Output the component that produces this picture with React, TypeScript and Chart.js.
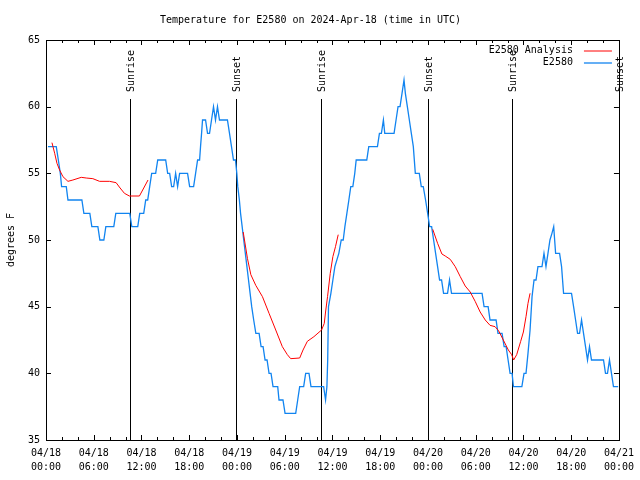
import { useEffect, useRef } from "react";
import { Chart, registerables } from "chart.js";

Chart.register(...registerables);

const FONT = "'DejaVu Sans Mono', monospace";
const TITLE = "Temperature for E2580 on 2024-Apr-18 (time in UTC)";
const Y_LABEL = "degrees F";
const SERIES_ANALYSIS = "E2580 Analysis";
const SERIES_OBS = "E2580";
const COLOR_ANALYSIS = "#ff0000";
const COLOR_OBS = "#1184f0";

const xTickDates = ["04/18", "04/18", "04/18", "04/18", "04/19", "04/19", "04/19", "04/19", "04/20", "04/20", "04/20", "04/20", "04/21"];
const xTickTimes = ["00:00", "06:00", "12:00", "18:00", "00:00", "06:00", "12:00", "18:00", "00:00", "06:00", "12:00", "18:00", "00:00"];

const sunEventHours = [10.52, 23.93, 34.55, 47.95, 58.52, 71.97];
const sunEventLabels = ["Sunrise", "Sunset", "Sunrise", "Sunset", "Sunrise", "Sunset"];

// hours since 04/18 00:00 UTC
const obsHours = [
  0.25, 1.29, 1.55, 1.8, 1.96, 2.55, 2.76, 4.51, 4.76, 5.51, 5.76, 6.52, 6.77, 7.27, 7.52, 8.52, 8.77, 10.53, 10.78, 11.53,
  11.78, 12.28, 12.53, 12.78, 13.03, 13.28, 13.78, 14.04, 15.04, 15.29, 15.54, 15.79, 16.04, 16.29, 16.54, 16.79, 17.79, 18.05, 18.55, 18.8,
  19.05, 19.3, 19.42, 19.55, 19.67, 20.05, 20.3, 20.55, 20.8, 21.05, 21.3, 21.55, 21.8, 22.8, 23.06, 23.31, 23.56, 23.81, 23.98,
  24.1, 24.3, 24.45, 24.65, 24.85, 25.05, 25.25, 25.45, 25.65, 25.85, 26.1, 26.37, 26.78, 27.03, 27.28, 27.53, 27.78, 28.03, 28.28, 28.53,
  29.12, 29.28, 29.78, 30.04, 31.38, 31.63, 31.88, 32.38, 32.63, 33.05, 33.3, 34.89, 35.13, 35.3, 35.4, 35.5, 35.8, 36.05, 36.3, 36.8,
  37.1, 37.35, 37.56, 37.81, 38.06, 38.3, 38.56, 38.8, 38.98, 40.31, 40.56, 41.65, 41.9, 42.15, 42.4, 42.57, 43.74, 43.99, 44.24, 44.49,
  44.74, 44.99, 45.16, 45.41, 45.66, 45.91, 46.16, 46.41, 46.91, 47.16, 47.41, 47.7, 47.96, 48.21, 48.46, 48.71, 48.96, 49.21, 49.46, 49.71,
  49.96, 50.21, 50.46, 50.71, 50.96, 54.8, 55.05, 55.56, 55.8, 56.56, 56.8, 57.31, 57.57, 57.82, 58.07, 58.32, 58.57, 58.74, 59.8, 60.07,
  60.32, 60.57, 60.83, 61.08, 61.33, 61.58, 61.82, 62.33, 62.58, 62.83, 63.08, 63.33, 63.58, 63.8, 64.04, 64.54, 64.79, 65.04, 66.04, 66.3,
  66.55, 66.8, 67.05, 67.3, 67.55, 67.8, 68.05, 68.3, 68.55, 70.06, 70.31, 70.56, 70.81, 71.06, 71.31, 71.9,
];
const obsTemps = [
  57, 57, 56, 55, 54, 54, 53, 53, 52, 52, 51, 51, 50, 50, 51, 51, 52, 52, 51, 51,
  52, 52, 53, 53, 54, 55, 55, 56, 56, 55, 55, 54, 54, 55, 54, 55, 55, 54, 54, 55,
  56, 56, 57, 58, 59, 59, 58, 58, 59, 60, 59, 60, 59, 59, 58, 57, 56, 56, 55,
  54, 53, 52, 51, 50, 49, 48, 47, 46, 45, 44, 43, 43, 42, 42, 41, 41, 40, 40, 39,
  39, 38, 38, 37, 37, 38, 39, 39, 40, 40, 39, 39, 38, 39, 41, 45, 46, 47, 48, 49,
  50, 50, 51, 52, 53, 54, 54, 55, 56, 56, 57, 57, 58, 58, 59, 58, 58, 59, 60, 60,
  61, 62, 61, 60, 59, 58, 57, 55, 55, 54, 54, 53, 52, 51, 51, 50, 49, 48, 47, 47,
  46, 46, 46, 47, 46, 46, 45, 45, 44, 44, 43, 43, 42, 42, 41, 40, 40, 39, 39, 40,
  40, 41.5, 43.25, 45.75, 47, 47, 48, 48, 49, 48, 49, 50, 50.5, 51, 49, 49, 48, 46, 46, 45,
  44, 43, 43, 44, 43, 42, 41, 42, 41, 41, 40, 40, 41, 40, 39, 39,
];

// analysis series; null marks a gap between runs
const anaHours = [
  0.75, 1.09, 1.38, 1.71, 2.13, 2.76, 3.38, 4.43, 5.05, 5.89, 6.73, 7.98, 8.81, 9.31, 9.86, 10.48, 11.74, 12.15, 12.82,
  13.0,
  24.78, 25.32, 25.74, 26.36, 27.2, 28.03, 28.87, 29.7, 30.33, 30.75, 31.88, 32.3, 32.84, 33.67, 34.63, 34.97, 35.13, 35.38, 35.72, 36.05, 36.38, 36.72,
  37.0,
  48.6, 49.21, 49.75, 50.17, 50.8, 51.43, 52.06, 52.68, 53.31, 53.93, 54.56, 55.2, 55.8, 56.43, 56.87, 57.47, 58.1, 58.52, 58.77, 59.15, 59.65, 59.99, 60.32, 60.57, 60.83,
];
const anaTemps = [
  57.3, 56.5, 55.75, 55.25, 54.75, 54.4, 54.5, 54.7, 54.65, 54.6, 54.4, 54.4, 54.3, 53.9, 53.5, 53.3, 53.3, 53.75, 54.5,
  null,
  50.6, 48.6, 47.4, 46.6, 45.75, 44.5, 43.25, 42.0, 41.4, 41.1, 41.15, 41.75, 42.4, 42.75, 43.25, 43.75, 44.6, 45.75, 47.5, 48.75, 49.5, 50.4,
  null,
  50.8, 49.75, 48.95, 48.8, 48.55, 48.0, 47.25, 46.55, 46.1, 45.4, 44.6, 44.0, 43.6, 43.5, 43.2, 42.5, 41.75, 41.4, 41.0, 41.4, 42.4, 43.1, 44.25, 45.25, 46.0,
];

const gnuplotDecor = {
  id: "gnuplotDecor",
  beforeDatasetsDraw(chart: any) {
    const { ctx, chartArea, scales } = chart;
    const xs = scales.x;
    ctx.save();
    ctx.strokeStyle = "#000";
    ctx.fillStyle = "#000";
    ctx.lineWidth = 1;
    ctx.font = `10px ${FONT}`;
    sunEventHours.forEach((h, i) => {
      const px = Math.round(xs.getPixelForValue(h)) + 0.5;
      ctx.beginPath();
      ctx.moveTo(px, chartArea.top + 59);
      ctx.lineTo(px, chartArea.bottom);
      ctx.stroke();
      ctx.save();
      ctx.translate(px + 1, chartArea.top + 52);
      ctx.rotate(-Math.PI / 2);
      ctx.textAlign = "left";
      ctx.textBaseline = "middle";
      ctx.fillText(sunEventLabels[i], 0, 0);
      ctx.restore();
    });
    ctx.restore();
  },
  afterDraw(chart: any) {
    const { ctx, chartArea, scales } = chart;
    const xs = scales.x;
    const ys = scales.y;
    const { left, right, top, bottom } = chartArea;
    ctx.save();
    ctx.strokeStyle = "#000";
    ctx.lineWidth = 1;
    ctx.beginPath();
    // inward ticks on x (bottom & top)
    for (let h = 0; h <= 72; h += 2) {
      const px = Math.round(xs.getPixelForValue(h)) + 0.5;
      const len = h % 6 === 0 ? 5 : 3;
      ctx.moveTo(px, bottom);
      ctx.lineTo(px, bottom - len);
      ctx.moveTo(px, top);
      ctx.lineTo(px, top + len);
    }
    // inward ticks on y (left & right)
    for (let v = 35; v <= 65; v += 5) {
      const py = Math.round(ys.getPixelForValue(v)) + 0.5;
      ctx.moveTo(left, py);
      ctx.lineTo(left + 5, py);
      ctx.moveTo(right, py);
      ctx.lineTo(right - 5, py);
    }
    ctx.stroke();
    ctx.strokeRect(Math.round(left) + 0.5, Math.round(top) + 0.5, Math.round(right - left), Math.round(bottom - top));

    // gnuplot-style key (text right-aligned, sample line on the right)
    ctx.font = `10px ${FONT}`;
    ctx.fillStyle = "#000";
    ctx.textAlign = "right";
    ctx.textBaseline = "middle";
    const keys = [
      { label: SERIES_ANALYSIS, color: COLOR_ANALYSIS, w: 1 },
      { label: SERIES_OBS, color: COLOR_OBS, w: 1.3 },
    ];
    keys.forEach((k, i) => {
      const y = top + 10.5 + i * 12;
      ctx.fillText(k.label, right - 46, y);
      ctx.strokeStyle = k.color;
      ctx.lineWidth = k.w;
      ctx.beginPath();
      ctx.moveTo(right - 35, y + 0.5);
      ctx.lineTo(right - 7, y + 0.5);
      ctx.stroke();
    });
    ctx.restore();
  },
};

export default function App() {
  const canvasRef = useRef<HTMLCanvasElement | null>(null);

  useEffect(() => {
    document.body.style.margin = "0";
    const canvas = canvasRef.current;
    if (!canvas) return;

    const obsData = obsHours.map((h, i) => ({ x: h, y: obsTemps[i] }));
    const anaData = anaHours.map((h, i) => ({ x: h, y: anaTemps[i] }));

    const chart = new Chart(canvas, {
      type: "line",
      data: {
        datasets: [
          {
            label: SERIES_ANALYSIS,
            data: anaData as any,
            borderColor: COLOR_ANALYSIS,
            backgroundColor: COLOR_ANALYSIS,
            borderWidth: 1,
            pointRadius: 0,
            tension: 0,
            spanGaps: false,
          },
          {
            label: SERIES_OBS,
            data: obsData,
            borderColor: COLOR_OBS,
            backgroundColor: COLOR_OBS,
            borderWidth: 1.3,
            pointRadius: 0,
            tension: 0,
          },
        ],
      },
      options: {
        responsive: false,
        animation: false,
        layout: { padding: { left: 0, right: 19, top: 0, bottom: 0 } },
        plugins: {
          legend: { display: false },
          tooltip: { enabled: false },
          title: {
            display: true,
            text: TITLE,
            color: "#000",
            font: { family: FONT, size: 10, weight: "normal", lineHeight: 1.2 },
            padding: { top: 14, bottom: 14 },
          },
        },
        scales: {
          x: {
            type: "linear",
            min: 0,
            max: 72,
            grid: { display: false, drawTicks: false },
            border: { display: false },
            afterFit: (scale: any) => {
              scale.height = 40;
            },
            ticks: {
              stepSize: 6,
              autoSkip: false,
              maxRotation: 0,
              padding: 6,
              color: "#000",
              font: { family: FONT, size: 10, lineHeight: 1.4 },
              callback: (value: any) => {
                const i = Math.round(Number(value) / 6);
                return [xTickDates[i], xTickTimes[i]];
              },
            },
          },
          y: {
            type: "linear",
            min: 35,
            max: 65,
            grid: { display: false, drawTicks: false },
            border: { display: false },
            afterFit: (scale: any) => {
              scale.width = 46;
            },
            title: {
              display: true,
              text: Y_LABEL,
              color: "#000",
              font: { family: FONT, size: 10, lineHeight: 1.2 },
              padding: { top: 5, bottom: 0 },
            },
            ticks: {
              stepSize: 5,
              padding: 6,
              color: "#000",
              font: { family: FONT, size: 10 },
            },
          },
        },
      },
      plugins: [gnuplotDecor],
    });

    return () => chart.destroy();
  }, []);

  return (
    <div style={{ width: 640, height: 480, background: "#fff" }}>
      <canvas ref={canvasRef} width={640} height={480} style={{ display: "block" }} />
    </div>
  );
}
